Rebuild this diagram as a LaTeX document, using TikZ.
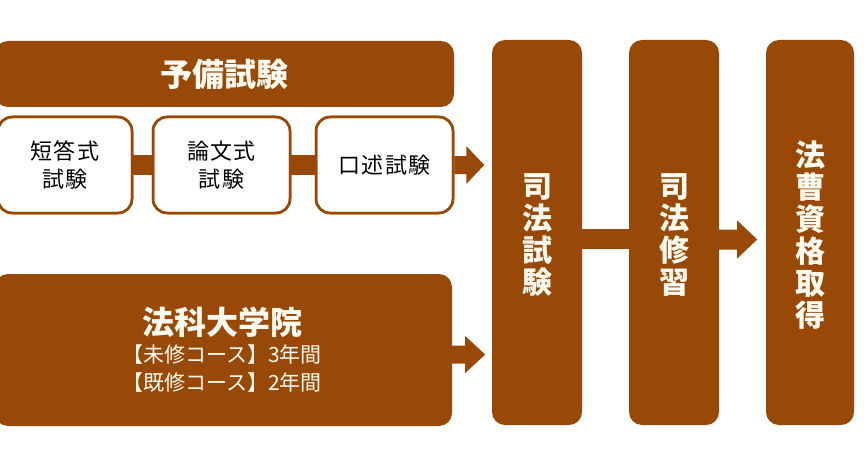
\documentclass[tikz,border=0pt]{standalone}
\usepackage{fontspec}
\setmainfont{Noto Sans CJK JP}
\usetikzlibrary{calc}
\definecolor{brn}{HTML}{984807}
\definecolor{cream}{HTML}{FFFAF0}
\newcommand\flowarrow[5]{% start, shaft len, head len, shaft half, head half
  \fill[brn] ($(#1)+(0,-#4)$) -- ($(#1)+(#2,-#4)$) -- ($(#1)+(#2,-#5)$) -- ($(#1)+(#2+#3,0)$)
    -- ($(#1)+(#2,#5)$) -- ($(#1)+(#2,#4)$) -- ($(#1)+(0,#4)$) -- cycle;}
\begin{document}
\begin{tikzpicture}[x=1pt,y=-1pt,
  brownbox/.style={fill=brn, rounded corners=13pt, inner sep=0pt, text=cream,
    font=\bfseries\fontsize{30}{32}\selectfont, align=center},
  whitebox/.style={draw=brn, line width=2.5pt, fill=white, rounded corners=14pt,
    inner sep=0pt, font=\fontsize{22}{28}\selectfont\addfontfeature{LetterSpace=5}, align=center,
    minimum height=96pt},
  subtext/.style={text=cream, font=\fontsize{21}{24}\selectfont, inner sep=0pt},
  vtext/.style={text=cream, font=\bfseries\fontsize{30}{32}\selectfont, align=center, inner sep=0pt},
  bar/.style={draw=brn, line width=20pt}]
\useasboundingbox (0,0) rectangle (864,468);
\clip (0,0) rectangle (864,468);

% top banner
\node[brownbox, minimum width=459pt, minimum height=66pt, font=\bfseries\fontsize{32}{34}\selectfont] (yobi) at (224.5,74) {予備試験};

% small boxes
\node[whitebox, minimum width=134pt] (b1) at (65,165) {短答式\\試験};
\node[whitebox, minimum width=137pt] (b2) at (221.5,165) {論文式\\試験};
\node[whitebox, minimum width=137pt] (b3) at (384.5,165) {口述試験};

% law school
\node[brownbox, minimum width=457pt, minimum height=152pt] (dai) at (223.5,350) {};
\node[text=cream, font=\bfseries\fontsize{32}{34}\selectfont, inner sep=0pt] (daititle) at (222,322) {法科大学院};
\node[subtext] (dai1) at (222,355) {【未修コース】3年間};
\node[subtext] (dai2) at (222,383) {【既修コース】2年間};

% right columns
\node[brownbox, minimum width=90pt, minimum height=385pt] (shiken) at (537,232.5) {};
\node[vtext] (shikent) at (537,235) {司\\法\\試\\験};
\node[brownbox, minimum width=90pt, minimum height=385pt] (shushu) at (674,232.5) {};
\node[vtext] (shushut) at (674,235) {司\\法\\修\\習};
\node[brownbox, minimum width=88pt, minimum height=385pt] (houso) at (810,232.5) {};
\node[vtext] (housot) at (810,235) {法\\曹\\資\\格\\取\\得};

% connectors
\draw[bar] (b1.east) -- (b2.west);
\draw[bar] (b2.east) -- (b3.west);
\flowarrow{b3.east}{12}{18}{9}{19}
\flowarrow{$(dai.east)+(0,4.5)$}{13}{20}{9}{18.5}
\draw[bar] ($(shiken.east)+(0,6.5)$) -- ($(shushu.west)+(0,6.5)$);
\flowarrow{$(shushu.east)+(0,7)$}{18}{20}{10}{19}

% redraw box borders over bars
\node[whitebox, minimum width=134pt, fill=none] (b1o) at (b1) {};
\node[whitebox, minimum width=137pt, fill=none] (b2o) at (b2) {};
\node[whitebox, minimum width=137pt, fill=none] (b3o) at (b3) {};
\end{tikzpicture}
\end{document}
